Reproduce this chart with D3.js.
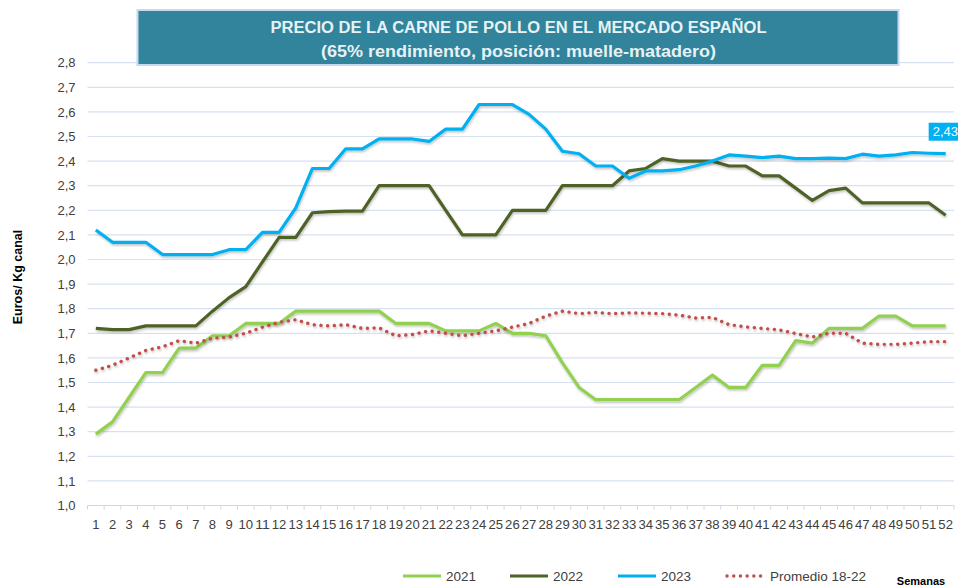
<!DOCTYPE html>
<html>
<head>
<meta charset="utf-8">
<script src="https://cdn.jsdelivr.net/npm/d3@7/dist/d3.min.js"></script>
<style>
  html, body { margin: 0; padding: 0; background: #fff; }
  svg { display: block; font-family: "Liberation Sans", Arial, sans-serif; }
</style>
</head>
<body>
<svg id="chart" width="958" height="588"></svg>
<script>
const titleLines = ["PRECIO DE LA CARNE DE POLLO EN EL MERCADO ESPAÑOL", "(65% rendimiento, posición: muelle-matadero)"];
const yAxisTitle = "Euros/ Kg canal";
const xAxisTitle = "Semanas";
const weeks = d3.range(1, 53);
const yTicks = [1.0, 1.1, 1.2, 1.3, 1.4, 1.5, 1.6, 1.7, 1.8, 1.9, 2.0, 2.1, 2.2, 2.3, 2.4, 2.5, 2.6, 2.7, 2.8];
const seriesNames = ["2021", "2022", "2023", "Promedio 18-22"];

const v2021 = [1.29, 1.34, 1.44, 1.54, 1.54, 1.64, 1.64, 1.69, 1.69, 1.74,
               1.74, 1.74, 1.79, 1.79, 1.79, 1.79, 1.79, 1.79, 1.74, 1.74,
               1.74, 1.71, 1.71, 1.71, 1.74, 1.70, 1.70, 1.69, 1.58, 1.48,
               1.43, 1.43, 1.43, 1.43, 1.43, 1.43, 1.48, 1.53, 1.48, 1.48,
               1.57, 1.57, 1.67, 1.66, 1.72, 1.72, 1.72, 1.77, 1.77, 1.73,
               1.73, 1.73];
const v2022 = [1.72, 1.715, 1.715, 1.73, 1.73, 1.73, 1.73, 1.79, 1.845, 1.89,
               1.99, 2.09, 2.09, 2.19, 2.195, 2.197, 2.197, 2.30, 2.30, 2.30,
               2.30, 2.20, 2.10, 2.10, 2.10, 2.20, 2.20, 2.20, 2.30, 2.30,
               2.30, 2.30, 2.36, 2.37, 2.41, 2.40, 2.40, 2.40, 2.38, 2.38,
               2.34, 2.34, 2.29, 2.24, 2.28, 2.29, 2.23, 2.23, 2.23, 2.23,
               2.23, 2.18];
const v2023 = [2.12, 2.07, 2.07, 2.07, 2.02, 2.02, 2.02, 2.02, 2.04, 2.04,
               2.11, 2.11, 2.21, 2.37, 2.37, 2.45, 2.45, 2.49, 2.49, 2.49,
               2.48, 2.53, 2.53, 2.63, 2.63, 2.63, 2.59, 2.53, 2.44, 2.43,
               2.38, 2.38, 2.33, 2.36, 2.36, 2.365, 2.38, 2.40, 2.425, 2.42,
               2.414, 2.42, 2.41, 2.41, 2.412, 2.41, 2.428, 2.42, 2.425, 2.435,
               2.432, 2.43];
const vProm = [1.55, 1.57, 1.60, 1.63, 1.645, 1.67, 1.66, 1.68, 1.685, 1.70,
               1.725, 1.745, 1.755, 1.735, 1.73, 1.735, 1.72, 1.722, 1.69, 1.695,
               1.71, 1.70, 1.69, 1.70, 1.71, 1.725, 1.74, 1.77, 1.79, 1.78,
               1.785, 1.78, 1.783, 1.782, 1.78, 1.774, 1.762, 1.765, 1.735, 1.726,
               1.72, 1.714, 1.699, 1.685, 1.70, 1.70, 1.66, 1.655, 1.655, 1.66,
               1.666, 1.666];
const lastLabel = "2,43";

const colors = ["#92d050", "#4f6228", "#00b0f0", "#c0504d"];
const allSeries = [v2021, v2022, v2023, vProm];

const svg = d3.select("#chart");
const defs = svg.append("defs");
const f = defs.append("filter").attr("id", "shadow").attr("x", "-5%").attr("y", "-20%").attr("width", "110%").attr("height", "140%");
f.append("feDropShadow").attr("dx", 0.8).attr("dy", 1.6).attr("stdDeviation", 1).attr("flood-color", "#000").attr("flood-opacity", 0.25);

const x = d3.scaleBand().domain(weeks).range([87.5, 954]).padding(0);
const y = d3.scaleLinear().domain([1.0, 2.8]).range([505.5, 62.7]);
const cx = d => x(d) + x.bandwidth() / 2;
const fmt = v => d3.format(".1f")(v).replace(".", ",");

// gridlines
svg.append("g").selectAll("line").data(yTicks.slice(1)).join("line")
  .attr("x1", 87.5).attr("x2", 954)
  .attr("y1", d => y(d)).attr("y2", d => y(d))
  .attr("stroke", "#d6e2f1").attr("stroke-width", 1.2);

// y axis labels
const yAxis = d3.axisLeft(y).tickValues(yTicks).tickFormat(fmt).tickSize(0).tickPadding(12);
const gy = svg.append("g").attr("transform", "translate(87.5,0)").call(yAxis);
gy.select(".domain").remove();
gy.selectAll("text").attr("font-size", 13).attr("fill", "#404040").attr("font-family", "Liberation Sans, Arial, sans-serif");

// x axis
const gx = svg.append("g").attr("transform", "translate(0,505.5)");
gx.append("line").attr("x1", 87.5).attr("x2", 954).attr("stroke", "#c6d9f1").attr("stroke-width", 1.2);
gx.selectAll("line.tk").data(weeks.concat([53])).join("line").attr("class", "tk")
  .attr("x1", d => d === 53 ? 954 : x(d)).attr("x2", d => d === 53 ? 954 : x(d))
  .attr("y1", 0).attr("y2", 4).attr("stroke", "#c6d9f1").attr("stroke-width", 1);
gx.selectAll("text").data(weeks).join("text")
  .attr("x", d => cx(d)).attr("y", 23).attr("text-anchor", "middle")
  .attr("font-size", 13).attr("fill", "#404040")
  .attr("textLength", d => d >= 10 ? 14.6 : null)
  .attr("lengthAdjust", "spacingAndGlyphs")
  .text(d => d);

// lines
const line = d3.line().x((d, i) => cx(weeks[i])).y(d => y(d));
allSeries.forEach((s, k) => {
  const p = svg.append("path").datum(s)
    .attr("d", line).attr("fill", "none")
    .attr("stroke", colors[k])
    .attr("stroke-width", 3.2)
    .attr("stroke-linejoin", "round")
    .attr("filter", "url(#shadow)");
  if (k === 3) {
    p.attr("stroke-dasharray", "0.1 6.6").attr("stroke-linecap", "round").attr("stroke-width", 3.4);
  }
});

// last value label
const lx = cx(52), ly = y(v2023[51]);
svg.append("rect").attr("x", lx - 17).attr("y", ly - 31).attr("width", 40).attr("height", 18).attr("fill", "#00b0f0");
svg.append("text").attr("x", lx - 13).attr("y", ly - 17.5).attr("fill", "#fff").attr("font-size", 13).text(lastLabel);

// title box
svg.append("rect").attr("x", 137.5).attr("y", 10).attr("width", 761).attr("height", 55)
  .attr("fill", "#31849b").attr("stroke", "#c6d9f1").attr("stroke-width", 2);
svg.append("g").selectAll("text").data(titleLines).join("text")
  .attr("x", 518.5).attr("y", (d, i) => 33 + i * 24)
  .attr("text-anchor", "middle").attr("font-weight", "bold").attr("font-size", 16)
  .attr("fill", "#e6f2f5")
  .attr("textLength", (d, i) => i === 0 ? 496 : 395)
  .attr("lengthAdjust", "spacingAndGlyphs")
  .text(d => d);

// y axis title
svg.append("text").attr("transform", "translate(22,277) rotate(-90)")
  .attr("text-anchor", "middle").attr("font-weight", "bold").attr("font-size", 12.5)
  .attr("fill", "#000").text(yAxisTitle);

// x axis title
svg.append("text").attr("x", 921).attr("y", 585).attr("text-anchor", "middle")
  .attr("font-weight", "bold").attr("font-size", 11).attr("fill", "#000").text(xAxisTitle);

// legend
const legX = [403, 510, 618, 727];
const lg = svg.append("g");
seriesNames.forEach((n, k) => {
  const l = lg.append("line").attr("x1", legX[k]).attr("x2", legX[k] + 38)
    .attr("y1", 576).attr("y2", 576).attr("stroke", colors[k]).attr("stroke-width", 3.2);
  if (k === 3) l.attr("stroke-dasharray", "0.1 6.6").attr("stroke-linecap", "round").attr("stroke-width", 3.4);
  lg.append("text").attr("x", legX[k] + 43).attr("y", 581).attr("font-size", 13.5)
    .attr("fill", "#404040").text(n);
});
</script>
</body>
</html>
